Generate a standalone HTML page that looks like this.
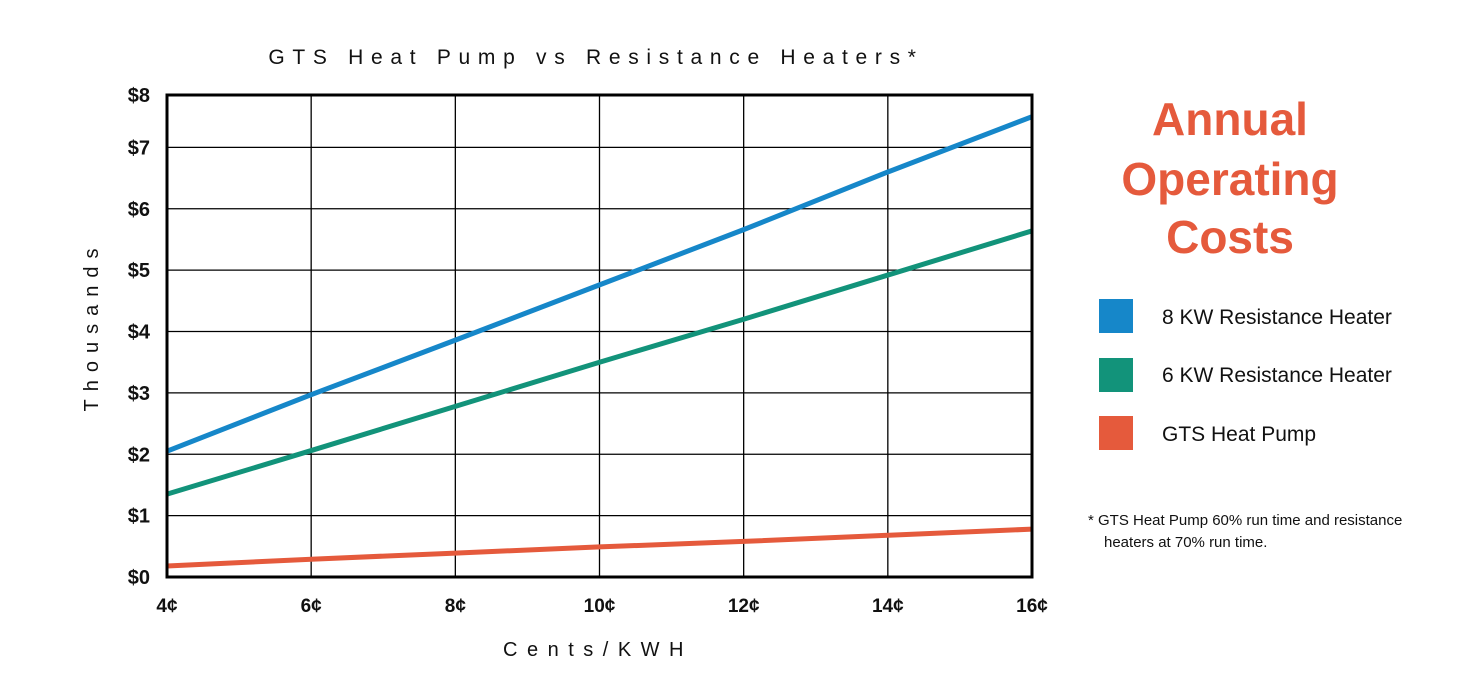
<!DOCTYPE html>
<html><head><meta charset="utf-8"><style>
body{margin:0;background:#fff;width:1468px;height:690px;overflow:hidden;font-family:"Liberation Sans",sans-serif}
</style></head><body>
<svg width="1468" height="690" xmlns="http://www.w3.org/2000/svg">
<text x="596" y="64" text-anchor="middle" font-size="21" letter-spacing="7.7" fill="#111">GTS Heat Pump vs Resistance Heaters*</text>
<g id="grid"></g>
<g id="series"></g>
<rect x="167" y="95" width="865" height="482" fill="none" stroke="#000" stroke-width="3"/>
<g id="ticks"></g>
<text transform="translate(98,326) rotate(-90)" text-anchor="middle" font-size="20" letter-spacing="8" fill="#111">Thousands</text>
<text x="598" y="656" text-anchor="middle" font-size="20" letter-spacing="9.5" fill="#111">Cents/KWH</text>
<g font-weight="bold" font-size="46" fill="#e55a3c" text-anchor="middle">
<text x="1230" y="135">Annual</text><text x="1230" y="195">Operating</text><text x="1230" y="253">Costs</text></g>
<g font-size="21" fill="#111">
<rect x="1099" y="299" width="34" height="34" fill="#1687c9"/>
<text x="1162" y="324">8 KW Resistance Heater</text>
<rect x="1099" y="358" width="34" height="34" fill="#12937a"/>
<text x="1162" y="382">6 KW Resistance Heater</text>
<rect x="1099" y="416" width="34" height="34" fill="#e55a3c"/>
<text x="1162" y="441">GTS Heat Pump</text>
</g>
<g font-size="15" fill="#111">
<text x="1088" y="525">* GTS Heat Pump 60% run time and resistance</text>
<text x="1104" y="547">heaters at 70% run time.</text></g>
</svg>
<script>
const categories=[4,6,8,10,12,14,16];
const xTickLabels=["4¢","6¢","8¢","10¢","12¢","14¢","16¢"];
const yTickValues=[0,1,2,3,4,5,6,7];
const yTickLabels=["$0","$1","$2","$3","$4","$5","$6","$7","$8"];
const kw8=[2.05,2.97,3.86,4.76,5.66,6.6,7.5];
const kw6=[1.35,2.06,2.78,3.5,4.2,4.92,5.64];
const gts=[0.18,0.29,0.39,0.49,0.58,0.68,0.78];
const NS="http://www.w3.org/2000/svg";
const X0=167,X1=1032,Y0=577,PER=61.37;
const xs=v=>X0+(v-4)/12*(X1-X0);
const ys=v=>Y0-v*PER;
function mk(tag,attrs,parent){const e=document.createElementNS(NS,tag);for(const k in attrs)e.setAttribute(k,attrs[k]);document.getElementById(parent).appendChild(e);return e;}
yTickValues.forEach(v=>{if(v===0)return;const l=mk('line',{x1:X0,x2:X1,y1:ys(v),y2:ys(v),stroke:'#000','stroke-width':1.3},'grid');

});
categories.forEach((c,i)=>{if(i>0&&i<categories.length-1){const l=mk('line',{x1:xs(c),x2:xs(c),y1:95,y2:Y0,stroke:'#000','stroke-width':1.3},'grid');

}
const t=mk('text',{x:xs(c),y:612,'text-anchor':'middle','font-size':19,'font-weight':'bold',fill:'#111'},'ticks');t.textContent=xTickLabels[i];

});
yTickLabels.forEach((s,i)=>{const y=i===8?95:ys(i);const t=mk('text',{x:150,y:y+7,'text-anchor':'end','font-size':20,'font-weight':'bold',fill:'#111'},'ticks');t.textContent=s;

});
[[kw8,'#1687c9','line-8kw'],[kw6,'#12937a','line-6kw'],[gts,'#e55a3c','line-gts']].forEach(([d,c,n])=>{
const p=mk('polyline',{points:d.map((v,i)=>xs(categories[i])+','+ys(v)).join(' '),fill:'none',stroke:c,'stroke-width':5},'series');

});
</script>
</body></html>
